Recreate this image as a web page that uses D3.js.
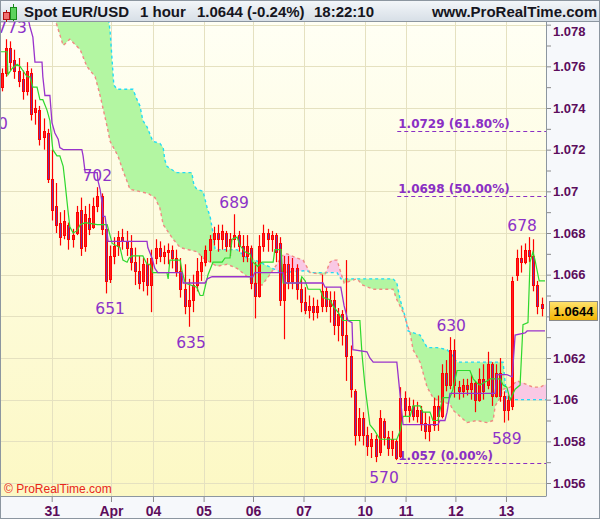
<!DOCTYPE html>
<html>
<head>
<meta charset="utf-8">
<script src="https://cdnjs.cloudflare.com/ajax/libs/d3/7.8.5/d3.min.js"></script>
<style>
body { margin: 0; background: #fff; }
svg { display: block; font-family: "Liberation Sans", Arial, sans-serif; }
</style>
</head>
<body>
<script>
var outerWidth = 600;
var outerHeight = 519;
var plot = {left: 1, top: 22, right: 546, bottom: 496};

// 2-hour bars, EUR/USD
var opens = [1.0750,1.0757,1.0769,1.0763,1.0758,1.0754,1.0748,1.0757,1.0738,1.0739,
  1.0726,1.0728,1.0706,1.0693,1.0685,1.0679,1.0684,1.0677,1.0680,1.0691,
  1.0674,1.0687,1.0683,1.0693,1.0698,1.0682,1.0658,1.0669,1.0674,1.0678,
  1.0676,1.0673,1.0666,1.0662,1.0657,1.0665,1.0655,1.0668,1.0673,1.0669,
  1.0671,1.0672,1.0668,1.0662,1.0653,1.0645,1.0648,1.0655,1.0662,1.0666,
  1.0672,1.0677,1.0680,1.0677,1.0680,1.0674,1.0677,1.0679,1.0674,1.0669,
  1.0673,1.0656,1.0650,1.0674,1.0680,1.0677,1.0679,1.0675,1.0648,1.0665,
  1.0657,1.0663,1.0653,1.0647,1.0643,1.0645,1.0642,1.0645,1.0652,1.0645,
  1.0648,1.0636,1.0641,1.0631,1.0621,1.0604,1.0583,1.0591,1.0583,1.0578,
  1.0581,1.0575,1.0590,1.0582,1.0577,1.0580,1.0573,1.0601,1.0595,1.0597,
  1.0592,1.0595,1.0589,1.0585,1.0588,1.0597,1.0592,1.0613,1.0607,1.0624,
  1.0606,1.0604,1.0607,1.0605,1.0608,1.0600,1.0610,1.0607,1.0617,1.0602,
  1.0613,1.0602,1.0595,1.0597,1.0660,1.0668,1.0666,1.0672,1.0669,1.0655,
  1.0646];
var highs = [1.0759,1.0773,1.0772,1.0768,1.0764,1.0758,1.0762,1.0759,1.0744,1.0741,
  1.0735,1.0730,1.0720,1.0704,1.0690,1.0691,1.0685,1.0682,1.0693,1.0697,
  1.0693,1.0694,1.0697,1.0702,1.0699,1.0684,1.0674,1.0678,1.0681,1.0682,
  1.0681,1.0679,1.0673,1.0669,1.0668,1.0668,1.0672,1.0677,1.0676,1.0674,
  1.0675,1.0674,1.0672,1.0668,1.0665,1.0658,1.0660,1.0668,1.0669,1.0674,
  1.0679,1.0683,1.0684,1.0684,1.0681,1.0680,1.0689,1.0681,1.0679,1.0679,
  1.0674,1.0666,1.0679,1.0684,1.0682,1.0681,1.0680,1.0678,1.0669,1.0669,
  1.0668,1.0665,1.0658,1.0654,1.0650,1.0649,1.0648,1.0660,1.0654,1.0652,
  1.0652,1.0644,1.0643,1.0667,1.0626,1.0605,1.0596,1.0594,1.0587,1.0584,
  1.0583,1.0595,1.0591,1.0585,1.0585,1.0581,1.0606,1.0604,1.0601,1.0600,
  1.0599,1.0597,1.0594,1.0592,1.0601,1.0602,1.0617,1.0619,1.0630,1.0629,
  1.0609,1.0610,1.0610,1.0612,1.0609,1.0615,1.0617,1.0623,1.0618,1.0617,
  1.0620,1.0604,1.0602,1.0659,1.0672,1.0674,1.0675,1.0678,1.0677,1.0657,
  1.0649];
var lows = [1.0748,1.0755,1.0758,1.0754,1.0750,1.0744,1.0746,1.0734,1.0732,1.0722,
  1.0720,1.0704,1.0686,1.0680,1.0674,1.0677,1.0672,1.0673,1.0679,1.0669,
  1.0671,1.0679,1.0682,1.0690,1.0679,1.0651,1.0656,1.0665,1.0669,1.0672,
  1.0669,1.0662,1.0655,1.0653,1.0652,1.0650,1.0642,1.0665,1.0666,1.0665,
  1.0665,1.0663,1.0659,1.0649,1.0641,1.0635,1.0642,1.0652,1.0657,1.0664,
  1.0666,1.0674,1.0671,1.0672,1.0671,1.0669,1.0673,1.0671,1.0666,1.0666,
  1.0653,1.0639,1.0649,1.0671,1.0671,1.0671,1.0666,1.0645,1.0629,1.0653,
  1.0653,1.0648,1.0642,1.0641,1.0639,1.0638,1.0639,1.0642,1.0642,1.0637,
  1.0631,1.0628,1.0626,1.0609,1.0601,1.0578,1.0580,1.0578,1.0573,1.0572,
  1.0570,1.0573,1.0578,1.0573,1.0573,1.0571,1.0572,1.0592,1.0589,1.0590,
  1.0589,1.0585,1.0581,1.0580,1.0585,1.0585,1.0591,1.0604,1.0605,1.0601,
  1.0600,1.0601,1.0602,1.0600,1.0594,1.0599,1.0600,1.0605,1.0597,1.0601,
  1.0599,1.0589,1.0590,1.0595,1.0657,1.0661,1.0665,1.0666,1.0652,1.0641,
  1.0640];
var closes = [1.0757,1.0769,1.0762,1.0758,1.0753,1.0748,1.0758,1.0737,1.0740,1.0725,
  1.0729,1.0706,1.0691,1.0684,1.0678,1.0686,1.0677,1.0679,1.0690,1.0673,
  1.0689,1.0682,1.0693,1.0698,1.0682,1.0657,1.0669,1.0674,1.0678,1.0676,
  1.0673,1.0666,1.0662,1.0656,1.0665,1.0655,1.0668,1.0673,1.0669,1.0671,
  1.0672,1.0668,1.0662,1.0653,1.0645,1.0648,1.0655,1.0662,1.0666,1.0672,
  1.0677,1.0680,1.0677,1.0681,1.0674,1.0677,1.0679,1.0674,1.0669,1.0674,
  1.0656,1.0650,1.0674,1.0680,1.0677,1.0679,1.0671,1.0648,1.0665,1.0657,
  1.0663,1.0653,1.0647,1.0643,1.0645,1.0642,1.0645,1.0652,1.0645,1.0648,
  1.0636,1.0641,1.0631,1.0621,1.0605,1.0583,1.0591,1.0583,1.0578,1.0581,
  1.0573,1.0591,1.0582,1.0577,1.0581,1.0572,1.0601,1.0595,1.0597,1.0592,
  1.0595,1.0589,1.0585,1.0588,1.0597,1.0592,1.0613,1.0607,1.0624,1.0607,
  1.0604,1.0607,1.0605,1.0608,1.0600,1.0610,1.0604,1.0617,1.0602,1.0613,
  1.0602,1.0595,1.0600,1.0657,1.0668,1.0666,1.0672,1.0669,1.0655,1.0645,
  1.0644];

// Ichimoku lines as [bar, price] vertices
var tenkan = [[-0.7,1.0767],[1.0,1.0767],[1.2,1.0756],[2.2,1.0759],[3.4,1.0761],[4.1,1.0760],[5.8,1.0755],[6.5,1.0755],
  [7.2,1.0750],[8.2,1.0750],[8.9,1.0744],[9.6,1.0744],[10.6,1.0739],[11.3,1.0734],[12.0,1.0720],[13.0,1.0717],
  [13.7,1.0717],[14.5,1.0712],[14.9,1.0705],[15.7,1.0690],[16.1,1.0683],[16.9,1.0680],[17.8,1.0681],[18.6,1.0684],
  [19.8,1.0685],[22.7,1.0684],[25.1,1.0684],[26.3,1.0675],[28.2,1.0673],[28.9,1.0667],[29.9,1.0666],[30.4,1.0668],
  [31.1,1.0669],[33.7,1.0669],[34.7,1.0665],[35.4,1.0665],[36.1,1.0661],[39.5,1.0661],[39.8,1.0658],[40.2,1.0667],
  [42.7,1.0667],[43.1,1.0662],[43.9,1.0656],[46.7,1.0654],[47.5,1.0650],[48.2,1.0650],[48.7,1.0654],[49.4,1.0660],
  [50.6,1.0666],[52.8,1.0666],[53.5,1.0668],[54.7,1.0668],[55.2,1.0677],[56.4,1.0678],[57.1,1.0674],[58.3,1.0671],
  [59.5,1.0670],[60.2,1.0666],[61.4,1.0664],[62.4,1.0666],[65.1,1.0666],[65.5,1.0672],[67.0,1.0672],[67.5,1.0656],
  [71.6,1.0656],[72.0,1.0659],[72.8,1.0657],[73.5,1.0653],[76.4,1.0653],[77.1,1.0649],[78.8,1.0648],[79.5,1.0645],
  [80.7,1.0642],[81.9,1.0638],[86.0,1.0638],[86.5,1.0622],[87.2,1.0607],[88.4,1.0588],[89.6,1.0585],[90.8,1.0581],
  [94.9,1.0581],[95.7,1.0585],[96.4,1.0592],[98.1,1.0592],[98.8,1.0597],[100.5,1.0597],[101.2,1.0594],[102.9,1.0594],
  [103.6,1.0590],[104.8,1.0590],[105.3,1.0595],[106.0,1.0601],[107.7,1.0601],[108.4,1.0605],[109.4,1.0614],[112.5,1.0614],
  [113.3,1.0610],[114.2,1.0608],[114.9,1.0607],[116.6,1.0609],[117.4,1.0610],[119.8,1.0610],[120.5,1.0607],[121.4,1.0606],
  [122.2,1.0600],[123.4,1.0605],[124.6,1.0607],[125.3,1.0636],[126.5,1.0637],[127.0,1.0666],[127.7,1.0671],[128.2,1.0667],
  [128.7,1.0662],[129.2,1.0657],[130.6,1.0657]];
var kijun = [[5.8,1.0785],[6.5,1.0779],[7.2,1.0774],[7.7,1.0762],[9.4,1.0762],[9.6,1.0755],[10.1,1.0746],[11.3,1.0746],
  [11.8,1.0733],[12.5,1.0728],[13.3,1.0725],[13.7,1.0721],[14.5,1.0720],[19.0,1.0720],[19.3,1.0717],[19.8,1.0709],
  [22.7,1.0709],[22.9,1.0705],[23.4,1.0701],[23.9,1.0694],[24.1,1.0688],[24.6,1.0688],[25.1,1.0680],[25.3,1.0676],
  [34.7,1.0676],[34.9,1.0673],[35.9,1.0668],[36.6,1.0663],[37.3,1.0661],[43.1,1.0661],[43.4,1.0656],[48.7,1.0656],
  [49.2,1.0658],[50.4,1.0659],[60.2,1.0659],[60.7,1.0661],[67.5,1.0661],[68.0,1.0656],[77.1,1.0656],[77.6,1.0654],
  [81.4,1.0654],[82.2,1.0645],[83.1,1.0638],[84.1,1.0637],[84.3,1.0624],[87.7,1.0623],[88.4,1.0620],[89.2,1.0618],
  [94.9,1.0618],[95.7,1.0602],[96.4,1.0588],[104.8,1.0588],[105.3,1.0590],[106.5,1.0590],[107.0,1.0594],[107.7,1.0603],
  [118.6,1.0603],[119.0,1.0612],[121.4,1.0612],[122.7,1.0611],[123.4,1.0631],[125.8,1.0632],[126.3,1.0633],[130.6,1.0633]];
var spanA = [[-0.7,1.0821],[23.4,1.0797],[24.8,1.0792],[25.8,1.0777],[26.7,1.0751],[27.5,1.0749],[31.3,1.0749],[32.3,1.0744],
  [33.0,1.0741],[33.7,1.0734],[34.7,1.0731],[36.1,1.0724],[37.8,1.0723],[38.6,1.0721],[39.0,1.0715],[39.5,1.0712],
  [41.0,1.0710],[41.9,1.0709],[45.5,1.0709],[46.0,1.0703],[46.7,1.0701],[48.2,1.0700],[49.2,1.0692],[49.9,1.0688],
  [50.6,1.0680],[51.1,1.0672],[56.4,1.0672],[58.8,1.0668],[59.5,1.0668],[61.9,1.0666],[66.0,1.0662],[67.5,1.0661],
  [73.3,1.0662],[74.0,1.0661],[80.5,1.0661],[81.4,1.0658],[94.0,1.0658],[94.9,1.0656],[95.7,1.0648],[96.9,1.0640],
  [97.6,1.0633],[100.5,1.0631],[102.2,1.0625],[104.6,1.0625],[107.0,1.0624],[108.4,1.0621],[109.4,1.0618],[119.8,1.0618],
  [120.5,1.0618],[121.0,1.0608],[121.4,1.0600],[131.5,1.0600]];
var spanB = [[-0.7,1.0821],[10.1,1.0794],[12.8,1.0781],[14.5,1.0770],[16.1,1.0773],[18.6,1.0768],[20.2,1.0760],[22.2,1.0755],
  [23.4,1.0746],[25.1,1.0731],[25.8,1.0724],[27.7,1.0717],[28.9,1.0710],[30.6,1.0701],[34.9,1.0699],[36.6,1.0697],
  [37.8,1.0692],[38.6,1.0684],[41.0,1.0677],[42.7,1.0673],[46.7,1.0671],[48.2,1.0668],[49.9,1.0666],[51.6,1.0664],
  [54.0,1.0665],[56.4,1.0663],[58.3,1.0660],[60.7,1.0656],[62.4,1.0655],[64.3,1.0660],[66.0,1.0665],[67.2,1.0669],
  [68.4,1.0670],[70.8,1.0668],[72.3,1.0667],[74.0,1.0661],[77.6,1.0660],[78.8,1.0666],[79.5,1.0667],[80.5,1.0667],
  [81.4,1.0661],[82.2,1.0656],[85.3,1.0658],[86.7,1.0655],[89.2,1.0653],[94.0,1.0653],[94.9,1.0648],[96.4,1.0642],
  [98.1,1.0632],[98.8,1.0624],[100.5,1.0618],[102.2,1.0606],[103.6,1.0601],[105.3,1.0599],[107.7,1.0598],[108.4,1.0595],
  [110.1,1.0592],[111.8,1.0589],[114.2,1.0590],[116.6,1.0589],[118.1,1.0590],[118.6,1.0597],[119.8,1.0601],[120.5,1.0605],
  [122.2,1.0606],[123.9,1.0609],[125.3,1.0608],[127.7,1.0606],[129.4,1.0606],[131.5,1.0608]];

// swing labels
var pivotBars = [-2.4, 2.2, 22.7, 25.8, 45.3, 55.7, 91.8, 108, 121.4, 125.1];
var pivotPrices = [1.0740, 1.0773, 1.0702, 1.0651, 1.0635, 1.0689, 1.0570, 1.0630, 1.0589, 1.0678];
var pivotTexts = ["740", "773", "702", "651", "635", "689", "570", "630", "589", "678"];
var pivotKinds = ["low", "high", "high", "low", "low", "high", "low", "high", "low", "high"];

// fibonacci retracement
var fibLevels = [1.0729, 1.0698, 1.05695];
var fibTexts = ["1.0729 (61.80%)", "1.0698 (50.00%)", "1.057 (0.00%)"];
var fibStartBar = 95;

var dayTicks = [11.73, 26.02, 36.14, 48.34, 60.24, 72.41, 87.16, 97.01, 109.01, 121.2];
var dayLabels = ["31", "Apr", "04", "05", "06", "07", "10", "11", "12", "13"];
var priceTicks = [1.056, 1.058, 1.06, 1.062, 1.064, 1.066, 1.068, 1.07, 1.072, 1.074, 1.076, 1.078];
var minorTicks = [1.057, 1.059, 1.061, 1.063, 1.065, 1.067, 1.069, 1.071, 1.073, 1.075, 1.077];
var lastPrice = 1.0644;

var svg = d3.select("body").append("svg")
    .attr("width", outerWidth)
    .attr("height", outerHeight);

var defs = svg.append("defs");
function vgrad(id, c0, c1) {
    var g = defs.append("linearGradient").attr("id", id)
        .attr("x1", 0).attr("y1", 0).attr("x2", 0).attr("y2", 1);
    g.append("stop").attr("offset", "0%").attr("stop-color", c0);
    g.append("stop").attr("offset", "100%").attr("stop-color", c1);
}
vgrad("hdrGrad", "#f4f7fa", "#d6dee6");
vgrad("plotGrad", "#fffff4", "#fcf8c4");
vgrad("badgeGrad", "#ffe36e", "#f2b400");

defs.append("clipPath").attr("id", "plotClip").append("rect")
    .attr("x", plot.left).attr("y", plot.top)
    .attr("width", plot.right - plot.left).attr("height", plot.bottom - plot.top);

var x = d3.scaleLinear().domain([0, 130]).range([3, 542.5]);
var y = d3.scaleLinear().domain([1.056, 1.078]).range([483, 24.67]);

// backgrounds
svg.append("rect").attr("width", outerWidth).attr("height", outerHeight).attr("fill", "#f6f8fb");
svg.append("rect")
    .attr("x", plot.left).attr("y", plot.top)
    .attr("width", plot.right - plot.left).attr("height", plot.bottom - plot.top)
    .attr("fill", "url(#plotGrad)");

var g = svg.append("g").attr("clip-path", "url(#plotClip)");

// grid
g.selectAll(".hgrid").data(priceTicks).enter().append("line")
    .attr("x1", plot.left).attr("x2", plot.right)
    .attr("y1", d => Math.round(y(d)) + 0.5).attr("y2", d => Math.round(y(d)) + 0.5)
    .attr("stroke", "#e5e1c0");
g.selectAll(".vgrid").data(dayTicks).enter().append("line")
    .attr("x1", d => Math.round(x(d)) + 0.5).attr("x2", d => Math.round(x(d)) + 0.5)
    .attr("y1", plot.top).attr("y2", plot.bottom)
    .attr("stroke", "#e5e1c0");

// kumo: green where span A above span B, pink otherwise
var above = d3.area().x(d => x(d[0])).y0(-100).y1(d => y(d[1]));
var below = d3.area().x(d => x(d[0])).y0(d => y(d[1])).y1(700);
defs.append("clipPath").attr("id", "aboveB").append("path").attr("d", above(spanB));
defs.append("clipPath").attr("id", "aboveA").append("path").attr("d", above(spanA));
g.append("path").attr("d", below(spanA)).attr("fill", "#b3f6a2").attr("clip-path", "url(#aboveB)");
g.append("path").attr("d", below(spanB)).attr("fill", "#f9c8e4").attr("clip-path", "url(#aboveA)");

var line = d3.line().x(d => x(d[0])).y(d => y(d[1]));
g.append("path").attr("d", line(spanA)).attr("fill", "none")
    .attr("stroke", "#22dcf5").attr("stroke-width", 1.4).attr("stroke-dasharray", "3,3");
g.append("path").attr("d", line(spanB)).attr("fill", "none")
    .attr("stroke", "#f08a82").attr("stroke-width", 1.4).attr("stroke-dasharray", "3,3");

// fibonacci levels
var fib = g.selectAll(".fib").data(fibLevels).enter().append("g");
fib.append("line")
    .attr("x1", x(fibStartBar)).attr("x2", plot.right)
    .attr("y1", d => Math.round(y(d)) + 0.5).attr("y2", d => Math.round(y(d)) + 0.5)
    .attr("stroke", "#8a2fc4").attr("stroke-width", 1.2).attr("stroke-dasharray", "4,3");
fib.append("text")
    .attr("x", x(fibStartBar) + 1).attr("y", d => y(d) - 3)
    .attr("font-family", "DejaVu Sans").attr("font-weight", "bold").attr("font-size", 12)
    .attr("fill", "#8a2fc4")
    .text((d, i) => fibTexts[i]);

// candles
var candles = opens.map(function(o, i) {
    return {i: i, o: o, h: highs[i], l: lows[i], c: closes[i]};
});
var cx = d => Math.round(x(d.i));
var bodyTop = d => Math.round(y(Math.max(d.o, d.c)));
var bodyBot = d => Math.max(Math.round(y(Math.min(d.o, d.c))), bodyTop(d) + 1);
var cg = g.append("g");
cg.selectAll(".wick").data(candles).enter().append("line")
    .attr("x1", d => cx(d) - 0.5).attr("x2", d => cx(d) - 0.5)
    .attr("y1", d => y(d.h)).attr("y2", d => y(d.l))
    .attr("stroke", "#ff0000").attr("stroke-width", 1.2);
cg.selectAll(".body").data(candles).enter().append("rect")
    .attr("x", d => cx(d) - 1.5).attr("y", d => bodyTop(d) + 0.5)
    .attr("width", 2).attr("height", d => bodyBot(d) - bodyTop(d))
    .attr("fill", d => d.c < d.o ? "#7b2f9e" : "#ff2020")
    .attr("stroke", "#ff0000");

// tenkan / kijun
g.append("path").attr("d", line(tenkan)).attr("fill", "none")
    .attr("stroke", "#2ed82e").attr("stroke-width", 1.2);
g.append("path").attr("d", line(kijun)).attr("fill", "none")
    .attr("stroke", "#9933cc").attr("stroke-width", 1.3);

// swing labels
g.selectAll(".pivot").data(pivotBars).enter().append("text")
    .attr("x", d => x(d))
    .attr("y", (d, i) => pivotKinds[i] === "high" ? y(pivotPrices[i]) - 6 : y(pivotPrices[i]) + 21)
    .attr("text-anchor", "middle")
    .attr("font-family", "DejaVu Sans").attr("font-size", 15.5)
    .attr("fill", "#8c32c8")
    .text((d, i) => pivotTexts[i]);

g.append("text").attr("x", 4).attr("y", 493)
    .attr("font-size", 12).attr("fill", "#e8261a")
    .text("\u00a9 ProRealTime.com");

// right price axis
var yAxis = svg.append("g").attr("transform", "translate(" + plot.right + ",0)")
    .call(d3.axisRight(y).tickValues(priceTicks).tickSize(5).tickPadding(2)
        .tickFormat(d3.format(".4~f")));
svg.append("g").attr("transform", "translate(" + plot.right + ",0)")
    .call(d3.axisRight(y).tickValues(minorTicks).tickSize(5).tickFormat(""))
    .call(a => a.select(".domain").remove())
    .selectAll("line").attr("stroke", "#8a8a8a");
yAxis.select(".domain").remove();
yAxis.selectAll("line").attr("stroke", "#8a8a8a");
yAxis.selectAll("text")
    .attr("font-family", "Liberation Sans, Arial, sans-serif")
    .attr("font-weight", "bold").attr("font-size", 13).attr("fill", "#5c0d5c")
    .attr("y", d => d === 1.078 ? 7 : 0);

// bottom time axis
var xAxis = svg.append("g").attr("transform", "translate(0," + plot.bottom + ")")
    .call(d3.axisBottom(x).tickValues(dayTicks).tickSize(6).tickPadding(4)
        .tickFormat((d, i) => dayLabels[i]));
xAxis.select(".domain").remove();
xAxis.selectAll("line").attr("stroke", "#8a8a8a");
xAxis.selectAll("text")
    .attr("font-family", "Liberation Sans, Arial, sans-serif")
    .attr("font-weight", "bold").attr("font-size", 14).attr("fill", "#5c0d5c");

// plot frame
svg.append("line").attr("x1", plot.right + 0.5).attr("x2", plot.right + 0.5)
    .attr("y1", plot.top).attr("y2", plot.bottom).attr("stroke", "#8c96a0");
svg.append("line").attr("x1", 0).attr("x2", plot.right + 0.5)
    .attr("y1", plot.bottom + 0.5).attr("y2", plot.bottom + 0.5).attr("stroke", "#8c96a0");

// last price badge
var badge = svg.append("g").attr("transform", "translate(549.5," + (Math.round(y(lastPrice)) - 6.5) + ")");
badge.append("rect").attr("width", 48).attr("height", 19)
    .attr("fill", "url(#badgeGrad)").attr("stroke", "#8a8a8a");
badge.append("text").attr("x", 24).attr("y", 14.5).attr("text-anchor", "middle")
    .attr("font-weight", "bold").attr("font-size", 13).attr("fill", "#000")
    .text(lastPrice.toFixed(4));

// header
var hdr = svg.append("g");
hdr.append("rect").attr("x", 0).attr("y", 0).attr("width", outerWidth).attr("height", plot.top)
    .attr("fill", "url(#hdrGrad)");
hdr.append("line").attr("x1", 0).attr("x2", outerWidth).attr("y1", plot.top - 0.5).attr("y2", plot.top - 0.5)
    .attr("stroke", "#8c96a0");
hdr.append("line").attr("x1", 6.5).attr("x2", 6.5).attr("y1", 10).attr("y2", 22).attr("stroke", "#b01010");
hdr.append("rect").attr("x", 3.5).attr("y", 12.5).attr("width", 6).attr("height", 7)
    .attr("fill", "#f07070").attr("stroke", "#b01010");
hdr.append("line").attr("x1", 13.5).attr("x2", 13.5).attr("y1", 4).attr("y2", 21).attr("stroke", "#1a8a1a");
hdr.append("rect").attr("x", 10.5).attr("y", 7.5).attr("width", 6).attr("height", 12)
    .attr("fill", "#5ed35e").attr("stroke", "#1a8a1a");
var hdrTexts = [["Spot EUR/USD", 24, "start"], ["1 hour", 140, "start"], ["1.0644 (-0.24%)", 197, "start"],
    ["18:22:10", 314, "start"], ["www.ProRealTime.com", 597, "end"]];
hdr.selectAll(".ht").data(hdrTexts).enter().append("text")
    .attr("x", d => d[1]).attr("y", 17).attr("text-anchor", d => d[2])
    .attr("font-weight", "bold").attr("font-size", 15).attr("fill", "#151520")
    .text(d => d[0]);

svg.append("rect").attr("x", 0.5).attr("y", 0.5).attr("width", outerWidth - 1).attr("height", outerHeight - 1)
    .attr("fill", "none").attr("stroke", "#8c96a0");
</script>
</body>
</html>
